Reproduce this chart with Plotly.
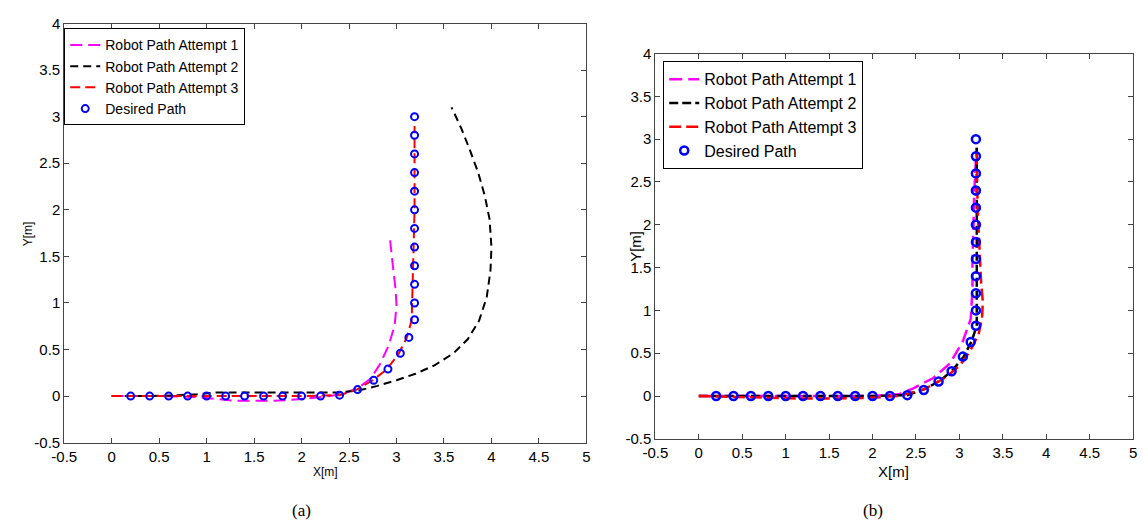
import plotly.graph_objects as go

# ---- desired path (shared by both panels) ----
desired_x = [0.2, 0.4, 0.6, 0.8, 1.0, 1.2, 1.4, 1.6, 1.8, 2.0, 2.2, 2.4,
             2.59, 2.76, 2.91, 3.04, 3.13, 3.19,
             3.19, 3.19, 3.19, 3.19, 3.19, 3.19, 3.19, 3.19, 3.19, 3.19, 3.19]
desired_y = [0.0, 0.0, 0.0, 0.0, 0.0, 0.0, 0.0, 0.0, 0.0, 0.0, 0.0, 0.01,
             0.07, 0.17, 0.29, 0.46, 0.63, 0.82,
             1.0, 1.2, 1.4, 1.6, 1.8, 2.0, 2.2, 2.4, 2.6, 2.8, 3.0]

# ---- panel (a) robot paths ----
a1_x = [0.0, 0.5, 0.9, 1.1, 1.3, 1.5, 1.7, 1.9, 2.1, 2.3, 2.45, 2.6, 2.73,
        2.83, 2.92, 2.98, 3.0, 2.99, 2.97, 2.95, 2.93]
a1_y = [0.0, 0.0, -0.01, -0.03, -0.05, -0.05, -0.05, -0.04, -0.02, 0.0, 0.03,
        0.09, 0.19, 0.35, 0.55, 0.76, 0.97, 1.15, 1.32, 1.53, 1.70]

a2_x = [0.0, 0.4, 0.7, 0.9, 1.1, 1.5, 2.0, 2.4, 2.6, 2.8, 3.0, 3.2, 3.4,
        3.6, 3.75, 3.87, 3.95, 3.99, 4.0, 3.98, 3.93, 3.86, 3.77, 3.68, 3.58]
a2_y = [0.0, 0.0, 0.01, 0.02, 0.04, 0.04, 0.04, 0.04, 0.06, 0.11, 0.17, 0.24,
        0.33, 0.46, 0.61, 0.81, 1.06, 1.35, 1.6, 1.9, 2.15, 2.4, 2.65, 2.88, 3.1]

a3_x = [0.0, 0.4, 0.8, 1.2, 1.6, 2.0, 2.4, 2.58, 2.75, 2.9, 3.02, 3.11,
        3.16, 3.17, 3.18, 3.19, 3.19, 3.19]
a3_y = [0.0, 0.0, 0.0, 0.0, 0.0, 0.0, 0.01, 0.07, 0.17, 0.29, 0.45, 0.63,
        0.82, 1.2, 1.6, 2.0, 2.4, 2.9]

# ---- panel (b) robot paths ----
b1_x = [0.0, 0.5, 1.0, 1.5, 2.0, 2.3, 2.47, 2.7, 2.89, 3.04, 3.13, 3.15,
        3.15, 3.16, 3.17, 3.19, 3.2]
b1_y = [0.0, 0.0, 0.0, 0.0, 0.0, 0.02, 0.09, 0.21, 0.38, 0.64, 0.90, 1.24,
        1.62, 1.92, 2.37, 2.75, 2.9]

b2_x = [0.0, 0.4, 0.8, 1.2, 1.6, 2.0, 2.4, 2.6, 2.78, 2.92, 3.05, 3.14,
        3.2, 3.2, 3.2, 3.2, 3.2, 3.2]
b2_y = [0.0, 0.0, 0.0, 0.0, 0.0, 0.0, 0.01, 0.08, 0.18, 0.3, 0.46, 0.64,
        0.82, 1.2, 1.6, 2.0, 2.4, 2.9]

b3_x = [0.0, 0.4, 0.8, 1.2, 1.6, 2.0, 2.3, 2.6, 2.83, 3.0, 3.12, 3.22,
        3.26, 3.27, 3.25, 3.23, 3.21, 3.2, 3.2]
b3_y = [0.0, -0.01, -0.02, -0.03, -0.03, -0.02, 0.0, 0.08, 0.21, 0.35, 0.52,
        0.72, 0.9, 1.1, 1.32, 1.69, 2.18, 2.75, 2.9]

tick_vals = [-0.5, 0, 0.5, 1, 1.5, 2, 2.5, 3, 3.5, 4, 4.5, 5]
tick_text = ["-0.5", "0", "0.5", "1", "1.5", "2", "2.5", "3", "3.5", "4", "4.5", "5"]
ytick_vals = [-0.5, 0, 0.5, 1, 1.5, 2, 2.5, 3, 3.5, 4]
ytick_text = ["-0.5", "0", "0.5", "1", "1.5", "2", "2.5", "3", "3.5", "4"]

names = ["Robot Path Attempt 1", "Robot Path Attempt 2", "Robot Path Attempt 3", "Desired Path"]
W, H = 1148, 532
FONT = "Liberation Sans, Arial, sans-serif"

fig = go.Figure()

def add_panel(xa, ya, leg, paths, widths, dashes, msize, mwidth):
    colors = ["#ff00ff", "#000000", "#ff0000"]
    for (px, py), col, w, d, nm in zip(paths, colors, widths, dashes, names):
        fig.add_trace(go.Scatter(x=px, y=py, mode="lines", name=nm,
                                 line=dict(color=col, width=w, dash=d),
                                 xaxis=xa, yaxis=ya, legend=leg))
    fig.add_trace(go.Scatter(x=desired_x, y=desired_y, mode="markers", name=names[3],
                             marker=dict(symbol="circle-open", size=msize, color="#0000ff",
                                         line=dict(width=mwidth, color="#0000ff")),
                             xaxis=xa, yaxis=ya, legend=leg))

add_panel("x", "y", "legend",
          [(a1_x, a1_y), (a2_x, a2_y), (a3_x, a3_y)],
          [2, 2, 2], ["12px,6px", "8px,5px", "10px,5px"], 7, 2)
add_panel("x2", "y2", "legend2",
          [(b1_x, b1_y), (b2_x, b2_y), (b3_x, b3_y)],
          [2.5, 2.5, 2.5], ["13px,6px", "9px,4px", "12px,5px"], 8, 2.5)

def px_dom(a, b, total):
    return [a / total, b / total]

axis_common = dict(showgrid=False, zeroline=False, showline=True,
                   linecolor="#444444", linewidth=1, mirror="ticks", ticks="inside",
                   ticklen=5, tickcolor="#444444",
                   tickfont=dict(family=FONT, size=15, color="#000000"))

fig.update_layout(
    width=W, height=H, margin=dict(l=0, r=0, t=0, b=0),
    paper_bgcolor="white", plot_bgcolor="white",
    xaxis=dict(axis_common, range=[-0.5, 5], domain=px_dom(52, 582, W),
               tickvals=tick_vals, ticktext=tick_text, anchor="y"),
    yaxis=dict(axis_common, range=[-0.5, 4], domain=[1 - 448 / H, 1 - 15 / H],
               tickvals=ytick_vals, ticktext=ytick_text, anchor="x"),
    xaxis2=dict(axis_common, range=[-0.5, 5], domain=px_dom(652, 1137, W),
                tickvals=tick_vals, ticktext=tick_text, anchor="y2"),
    yaxis2=dict(axis_common, range=[-0.5, 4], domain=[1 - 444 / H, 1 - 46 / H],
                tickvals=ytick_vals, ticktext=ytick_text, anchor="x2"),
    legend=dict(x=52 / W, y=1 - 20 / H, xanchor="left", yanchor="top",
                bgcolor="white", bordercolor="#000000", borderwidth=1,
                font=dict(family=FONT, size=14, color="#000000"),
                tracegroupgap=0),
    legend2=dict(x=660 / W, y=1 - 54 / H, xanchor="left", yanchor="top",
                 bgcolor="white", bordercolor="#000000", borderwidth=1,
                 font=dict(family=FONT, size=16, color="#000000"),
                 tracegroupgap=0),
    showlegend=True,
)

# axis titles and panel captions
ann = [
    dict(text="X[m]", x=317 / W, y=1 - 478 / H, font=dict(family=FONT, size=12)),
    dict(text="Y[m]", x=15 / W, y=1 - 232 / H, textangle=-90, font=dict(family=FONT, size=12)),
    dict(text="X[m]", x=894 / W, y=1 - 478 / H, font=dict(family=FONT, size=15)),
    dict(text="Y[m]", x=632 / W, y=1 - 245 / H, textangle=-90, font=dict(family=FONT, size=15)),
    dict(text="(a)", x=293 / W, y=1 - 518 / H,
         font=dict(family="Liberation Serif, Times New Roman, serif", size=17)),
    dict(text="(b)", x=873 / W, y=1 - 518 / H,
         font=dict(family="Liberation Serif, Times New Roman, serif", size=17)),
]
for a in ann:
    a.update(xref="paper", yref="paper", showarrow=False, xanchor="center", yanchor="middle")
    a["font"]["color"] = "#000000"
fig.update_layout(annotations=ann)

fig.write_html("out.html")
